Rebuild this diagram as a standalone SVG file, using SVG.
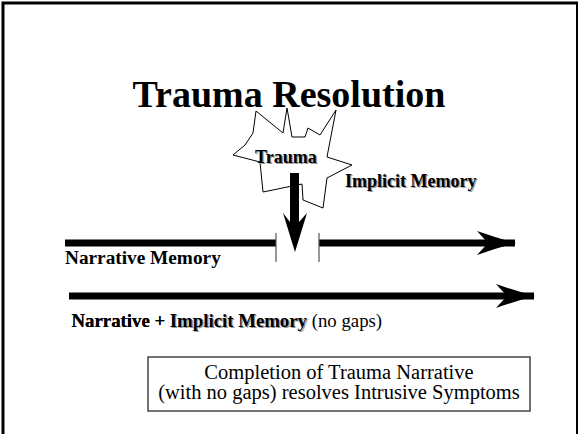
<svg xmlns="http://www.w3.org/2000/svg" width="578" height="434" viewBox="0 0 578 434">
  <style>
    .serif { font-family: "Liberation Serif", "Times New Roman", serif; fill: #000; }
    .b { font-weight: bold; }
    .shadow { fill: #9a9a9a; }
    .thick { stroke: #000; stroke-width: 7; fill: none; }
    .tick { stroke: #555; stroke-width: 1.2; }
  </style>
  <defs>
    <marker id="stealth" markerUnits="userSpaceOnUse" markerWidth="40" markerHeight="24" refX="38" refY="12" orient="auto" viewBox="0 0 40 24">
      <path d="M0,0 Q20,7 39,12 Q20,17 0,24 L11,12 Z" fill="#000"/>
    </marker>
  </defs>

  <!-- slide frame -->
  <rect x="3" y="3" width="574.5" height="440" fill="#fff" stroke="#000" stroke-width="3"/>

  <!-- title -->
  <g id="title">
    <text class="serif b" x="289" y="107" font-size="38" text-anchor="middle">Trauma Resolution</text>
  </g>

  <!-- starburst node -->
  <g id="trauma">
    <polygon points="233,155 245,145 253,133 256,111 283,133 287,108 292,137 305,137 308,128 320,135 336,110 327,157 352,165 327,178 323,208 303,200 302,184 263,192 260,162"
             fill="#fff" stroke="#000" stroke-width="1"/>
    <text class="serif b shadow" x="256.3" y="164.3" font-size="18">Trauma</text>
    <text class="serif b" x="255" y="163" font-size="18">Trauma</text>
  </g>

  <g id="implicit">
    <text class="serif b shadow" x="346.3" y="187.8" font-size="18">Implicit Memory</text>
    <text class="serif b" x="345" y="186.5" font-size="18">Implicit Memory</text>
  </g>

  <g id="connectors">
    <!-- downward arrow from trauma into the gap -->
    <polygon points="290,173 299,173 299,222 307,213 295,252 283,213 290,222" fill="#000"/>
    <!-- narrative memory line with gap -->
    <line class="thick" x1="65" y1="243" x2="276" y2="243"/>
    <line class="thick" x1="319" y1="243" x2="515" y2="243" marker-end="url(#stealth)"/>
    <line class="tick" x1="276" y1="233" x2="276" y2="262"/>
    <line class="tick" x1="319" y1="233" x2="319" y2="262"/>
    <!-- continuous narrative line -->
    <line class="thick" x1="69" y1="296" x2="534" y2="296" marker-end="url(#stealth)"/>
  </g>

  <g id="narrative-label">
    <text class="serif b" x="65" y="264" font-size="19.3">Narrative Memory</text>
  </g>

  <g id="combined-label">
    <text class="serif" x="71.5" y="327" font-size="18.8"><tspan class="b">Narrative + </tspan><tspan class="b shadow" dx="1.3" dy="1.3">Implicit Memory</tspan></text>
    <text class="serif" x="71.5" y="327" font-size="18.8"><tspan class="b">Narrative + </tspan><tspan class="b">Implicit Memory</tspan> (no gaps)</text>
  </g>

  <g id="summary">
    <rect x="148" y="357" width="382" height="54" fill="#fff" stroke="#444" stroke-width="1.5"/>
    <text class="serif" x="339" y="378.5" font-size="20.5" text-anchor="middle">Completion of Trauma Narrative</text>
    <text class="serif" x="339" y="398.5" font-size="20.5" text-anchor="middle">(with no gaps) resolves Intrusive Symptoms</text>
  </g>
</svg>
